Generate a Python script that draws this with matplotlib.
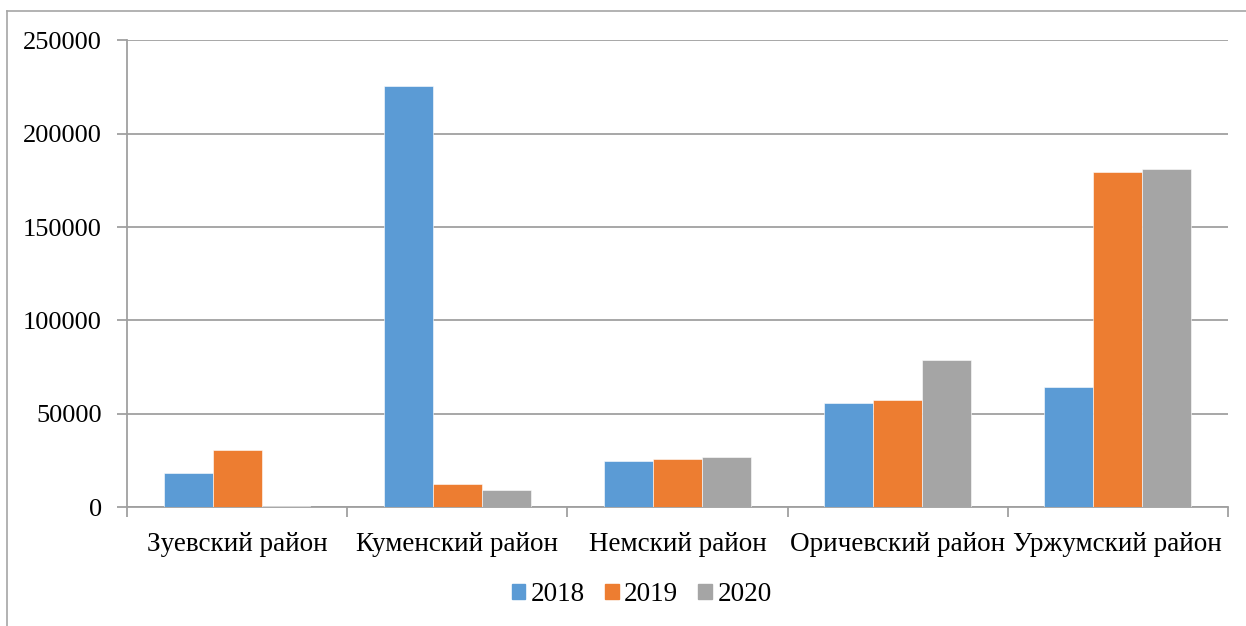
import matplotlib.pyplot as plt
import matplotlib.patches as mpatches
import numpy as np

plt.rcParams['font.family'] = ['Liberation Serif', 'DejaVu Serif']

# Data
districts = ['Зуевский район', 'Куменский район', 'Немский район',
             'Оричевский район', 'Уржумский район']
years = ['2018', '2019', '2020']
v2018 = [18000, 225500, 24600, 55900, 64100]
v2019 = [30400, 12100, 25500, 57100, 179300]
v2020 = [800, 8900, 26800, 78700, 181000]
colors = ['#5B9BD5', '#ED7D31', '#A5A5A5']

fig = plt.figure(figsize=(12.46, 6.26), dpi=100)
ax = fig.add_axes([0.1019, 0.190, 0.8836, 0.7456])

x = np.arange(len(districts))
w = 1 / 4.5
for i, (vals, c) in enumerate(zip([v2018, v2019, v2020], colors)):
    ax.bar(x + (i - 1) * w, vals, width=w, color=c, edgecolor='white',
           linewidth=0.4, label=years[i], zorder=3)

ax.set_xlim(-0.5, len(districts) - 0.5)
ax.set_ylim(0, 250000)
ax.set_yticks(np.arange(0, 250001, 50000))
ax.yaxis.grid(True, color='#a0a0a0', linewidth=1.3, zorder=0)

for s in ['top', 'right']:
    ax.spines[s].set_visible(False)
ax.spines['left'].set_color('#a0a0a0')
ax.spines['bottom'].set_color('#a0a0a0')
ax.spines['left'].set_linewidth(1.3)
ax.spines['bottom'].set_linewidth(1.3)

# category labels centred, tick marks at boundaries
ax.set_xticks(np.arange(-0.5, len(districts), 1))
ax.set_xticklabels([])
ax.set_xticks(x, minor=True)
ax.set_xticklabels(districts, minor=True, fontsize=19.5)
ax.tick_params(axis='x', which='major', length=7, color='#a0a0a0', width=1.3)
ax.tick_params(axis='x', which='minor', length=0, pad=18)
ax.tick_params(axis='y', length=7, color='#a0a0a0', width=1.3, labelsize=19, pad=11)

handles = [mpatches.Patch(color=c, label=y) for c, y in zip(colors, years)]
fig.legend(handles=handles, loc='center', bbox_to_anchor=(0.515, 0.050), ncol=3,
           frameon=False, fontsize=19.5, handlelength=0.5, handleheight=0.5,
           handletextpad=0.2, columnspacing=0.75)

# outer chart border
fig.add_artist(plt.Line2D([0.0056, 0.0056], [0, 0.982], color='#a6a6a6', linewidth=1.2))
fig.add_artist(plt.Line2D([0.0056, 1], [0.982, 0.982], color='#a6a6a6', linewidth=1.2))

fig.savefig('out.png', dpi=100)
